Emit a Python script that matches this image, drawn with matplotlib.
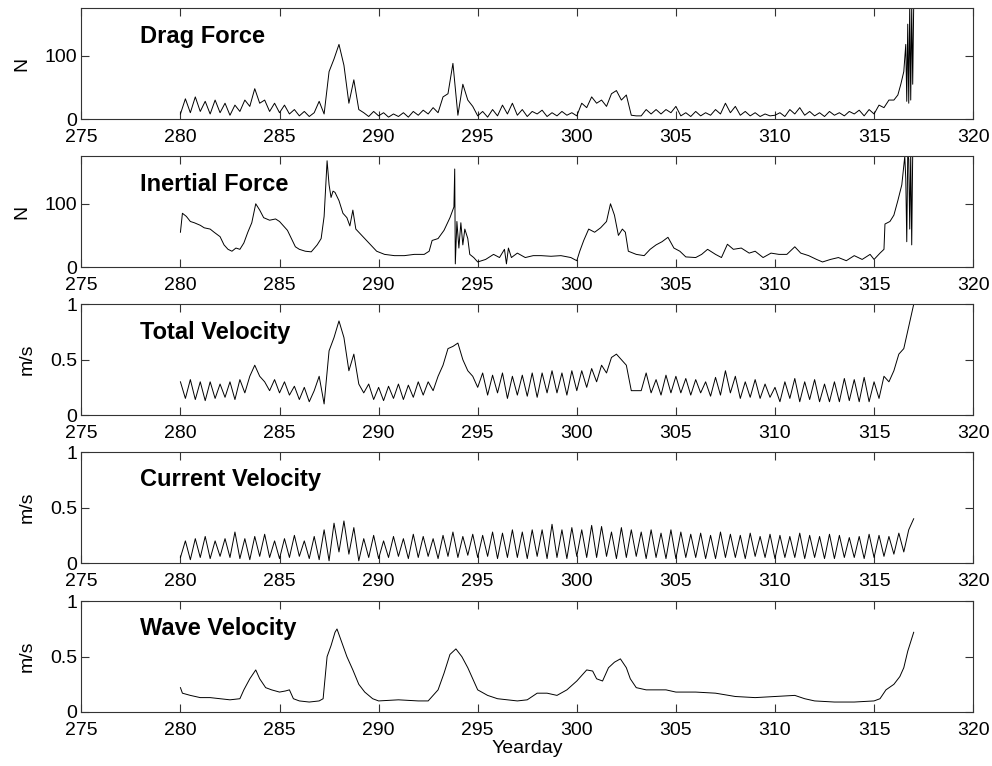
import numpy as np
import matplotlib
matplotlib.use('Agg')
import matplotlib.pyplot as plt

plt.rcParams['font.family'] = ['Liberation Sans', 'DejaVu Sans']

# drag force, 4 samples a day from 280.00 to 315.75, then the burst at the end
drag_start = 280.0
drag_force = [
    8, 32, 10, 35,   12, 28, 8, 30,   10, 25, 6, 22,   12, 30, 20, 48,
    25, 30, 12, 25,  10, 22, 8, 15,   5, 12, 4, 10,    28, 8, 75, 95,
    118, 85, 25, 62, 15, 10, 4, 12,   5, 10, 3, 8,     4, 10, 3, 12,
    6, 14, 8, 18,    10, 35, 40, 88,  6, 55, 30, 20,   5, 12, 3, 15,
    5, 22, 8, 25,    6, 15, 4, 12,    8, 14, 4, 10,    5, 12, 6, 10,
    5, 25, 18, 35,   25, 30, 20, 40,  45, 30, 38, 6,   5, 5, 15, 8,
    15, 8, 15, 10,   20, 5, 10, 4,    12, 5, 10, 6,    15, 8, 25, 10,
    20, 6, 12, 5,    10, 4, 8, 5,     6, 10, 4, 15,    8, 18, 6, 12,
    5, 10, 4, 12,    6, 10, 5, 12,    8, 14, 5, 15,    8, 22, 18, 30,
]
drag_tail_days = [316.0, 316.2, 316.35, 316.5, 316.6, 316.65, 316.7, 316.75,
                  316.8, 316.85, 316.9, 316.95, 317.0]
drag_tail = [30, 38, 55, 75, 118, 28, 150, 25, 180, 30, 180, 55, 180]

inertial_days = [
    280.0, 280.1, 280.3, 280.5, 280.7, 281.0, 281.2, 281.5, 281.7, 282.0,
    282.2, 282.4, 282.6, 282.8, 283.0, 283.2, 283.4, 283.6, 283.8, 284.0,
    284.2, 284.5, 284.8, 285.0, 285.2, 285.4, 285.6, 285.8, 286.0, 286.3,
    286.6, 286.9, 287.1, 287.25, 287.4, 287.5, 287.6, 287.7, 287.8, 288.0,
    288.2, 288.4, 288.55, 288.7, 288.85, 289.0, 289.3, 289.6, 289.9, 290.3,
    290.8, 291.3, 291.8, 292.3, 292.55, 292.7, 293.0, 293.3, 293.6, 293.8,
    293.84, 293.87, 293.95, 294.05, 294.15, 294.25, 294.35, 294.5, 294.6, 294.8,
    295.0, 295.4, 295.8, 296.1, 296.35, 296.45, 296.55, 296.7, 297.0, 297.4,
    297.8, 298.2, 298.7, 299.2, 299.7, 300.0, 300.15, 300.35, 300.6, 300.9,
    301.2, 301.5, 301.7, 301.9, 302.1, 302.3, 302.45, 302.6, 303.0, 303.4,
    303.7, 304.0, 304.3, 304.6, 304.9, 305.2, 305.5, 306.0, 306.3, 306.6,
    307.0, 307.3, 307.6, 307.9, 308.3, 308.7, 309.0, 309.4, 309.8, 310.2,
    310.6, 311.0, 311.3, 311.7, 312.1, 312.4, 312.8, 313.2, 313.6, 314.0,
    314.4, 314.8, 315.0, 315.3, 315.5, 315.55, 315.8, 316.0, 316.2, 316.4,
    316.55, 316.6, 316.65, 316.7, 316.75, 316.8, 316.85, 316.9, 316.95, 317.0,
]
inertial_force = [
    55, 85, 80, 72, 70, 66, 62, 60, 55, 48,
    35, 28, 25, 30, 28, 38, 55, 70, 100, 90,
    78, 74, 76, 72, 65, 58, 45, 32, 28, 25,
    24, 35, 45, 80, 168, 130, 110, 120, 118, 105,
    85, 78, 65, 90, 60, 55, 45, 35, 25, 20,
    18, 18, 20, 20, 25, 42, 45, 58, 78, 95,
    155, 5, 72, 30, 70, 35, 60, 45, 20, 15,
    8, 12, 20, 15, 28, 5, 30, 15, 22, 15,
    18, 18, 17, 18, 15, 10, 25, 42, 60, 55,
    62, 72, 100, 82, 50, 60, 55, 25, 20, 18,
    28, 35, 40, 47, 30, 25, 16, 15, 20, 28,
    20, 15, 36, 28, 30, 22, 25, 15, 22, 20,
    20, 32, 22, 18, 12, 8, 12, 15, 10, 18,
    12, 20, 12, 22, 28, 68, 72, 82, 105, 130,
    175, 140, 40, 180, 170, 60, 180, 35, 180, 180,
]

# velocities, 4 samples a day from 280.00 to 317.00
vel_start = 280.0
total_velocity = [
    .30, .15, .32, .14,  .30, .13, .30, .15,  .28, .16, .30, .14,  .32, .20, .35, .45,
    .35, .30, .22, .32,  .20, .30, .18, .26,  .14, .25, .12, .22,  .35, .10, .58, .70,
    .85, .70, .40, .55,  .28, .20, .28, .14,  .25, .13, .26, .15,  .28, .14, .27, .16,
    .30, .18, .30, .22,  .35, .45, .60, .62,  .65, .50, .40, .35,  .25, .38, .18, .36,
    .20, .38, .15, .35,  .18, .36, .17, .38,  .16, .38, .20, .40,  .20, .38, .18, .40,
    .22, .40, .25, .42,  .30, .45, .38, .52,  .55, .50, .45, .22,  .22, .22, .38, .20,
    .32, .18, .36, .20,  .35, .20, .33, .18,  .32, .20, .30, .17,  .34, .18, .40, .20,
    .35, .15, .30, .16,  .32, .15, .28, .16,  .25, .12, .30, .15,  .33, .12, .30, .14,
    .32, .12, .28, .12,  .30, .12, .33, .13,  .32, .12, .34, .12,  .30, .15, .35, .30,
    .40, .55, .60, .80,  1.0,
]
current_velocity = [
    .05, .20, .03, .22,  .05, .24, .04, .20,  .06, .22, .05, .28,  .04, .22, .03, .24,
    .06, .26, .05, .20,  .04, .22, .05, .25,  .06, .20, .04, .24,  .03, .30, .02, .36,
    .10, .38, .08, .32,  .02, .22, .05, .25,  .04, .20, .05, .24,  .06, .22, .04, .26,
    .05, .24, .06, .22,  .04, .25, .06, .28,  .05, .24, .07, .26,  .05, .25, .06, .28,
    .04, .27, .05, .30,  .05, .28, .04, .30,  .06, .30, .04, .35,  .05, .30, .04, .32,
    .06, .30, .05, .34,  .05, .33, .06, .28,  .04, .32, .05, .30,  .06, .28, .04, .30,
    .05, .27, .04, .30,  .04, .28, .05, .26,  .05, .27, .04, .25,  .04, .28, .05, .26,
    .05, .25, .04, .27,  .06, .24, .05, .26,  .04, .25, .05, .24,  .05, .27, .04, .25,
    .05, .24, .04, .26,  .04, .25, .05, .23,  .05, .24, .04, .26,  .05, .25, .06, .24,
    .08, .27, .10, .30,  .40,
]

wave_days = [
    280.0, 280.1, 280.5, 281.0, 281.5, 282.0, 282.5, 283.0, 283.2, 283.5,
    283.8, 284.0, 284.3, 284.6, 285.0, 285.3, 285.5, 285.7, 286.0, 286.5,
    287.0, 287.2, 287.4, 287.6, 287.8, 287.9, 288.1, 288.4, 288.7, 289.0,
    289.3, 289.7, 290.0, 291.0, 292.0, 292.5, 293.0, 293.3, 293.6, 293.9,
    294.2, 294.5, 294.8, 295.0, 295.5, 296.0, 297.0, 297.5, 298.0, 298.5,
    299.0, 299.5, 300.0, 300.5, 300.8, 301.0, 301.3, 301.6, 301.9, 302.2,
    302.5, 302.7, 303.0, 303.5, 304.0, 304.5, 305.0, 306.0, 307.0, 308.0,
    309.0, 310.0, 311.0, 311.5, 312.0, 313.0, 314.0, 315.0, 315.3, 315.6,
    316.0, 316.3, 316.5, 316.7, 317.0,
]
wave_velocity = [
    .22, .17, .15, .13, .13, .12, .11, .12, .20, .30,
    .38, .30, .22, .20, .18, .19, .20, .12, .10, .09,
    .10, .12, .50, .60, .72, .75, .65, .50, .38, .25,
    .18, .12, .10, .11, .10, .10, .20, .35, .52, .57,
    .50, .40, .28, .20, .15, .12, .10, .11, .17, .17,
    .15, .20, .28, .38, .37, .30, .28, .40, .45, .48,
    .40, .30, .22, .20, .20, .20, .18, .18, .17, .14,
    .13, .14, .15, .12, .10, .09, .09, .10, .12, .20,
    .25, .32, .40, .55, .72,
]

drag_days = drag_start + 0.25 * np.arange(len(drag_force))
vel_days = vel_start + 0.25 * np.arange(len(total_velocity))

panels = [
    ('Drag Force', 'N', np.concatenate([drag_days, drag_tail_days]),
     np.concatenate([drag_force, drag_tail]), 175, [0, 100], ['0', '100']),
    ('Inertial Force', 'N', inertial_days, inertial_force, 175, [0, 100], ['0', '100']),
    ('Total Velocity', 'm/s', vel_days, total_velocity, 1, [0, 0.5, 1], ['0', '0.5', '1']),
    ('Current Velocity', 'm/s', vel_days, current_velocity, 1, [0, 0.5, 1], ['0', '0.5', '1']),
    ('Wave Velocity', 'm/s', wave_days, wave_velocity, 1, [0, 0.5, 1], ['0', '0.5', '1']),
]

fig = plt.figure(figsize=(9.92, 7.66), dpi=100)
bottoms = [0.8446, 0.6514, 0.4582, 0.2650, 0.0705]

for (title, unit, x, y, ymax, yt, ytl), b in zip(panels, bottoms):
    ax = fig.add_axes([0.082, b, 0.899, 0.1445])
    ax.plot(x, y, color='black', lw=0.7)
    ax.set_xlim(275, 320)
    ax.set_ylim(0, ymax)
    ax.set_xticks(range(275, 321, 5))
    ax.set_yticks(yt)
    ax.set_yticklabels(ytl)
    ax.tick_params(direction='in', top=True, right=True, length=6,
                   labelsize=14, color='#333333')
    ax.tick_params(axis='x', pad=7)
    ax.tick_params(axis='y', pad=3)
    for s in ax.spines.values():
        s.set_color('#333333')
        s.set_linewidth(0.8)
    ax.set_ylabel(unit, fontsize=14, labelpad=10)
    ax.text(0.066, 0.75, title, transform=ax.transAxes, fontsize=17,
            fontweight='bold', va='center', ha='left')

ax.set_xlabel('Yearday', fontsize=14, labelpad=1)

fig.savefig('out.png', dpi=100)
